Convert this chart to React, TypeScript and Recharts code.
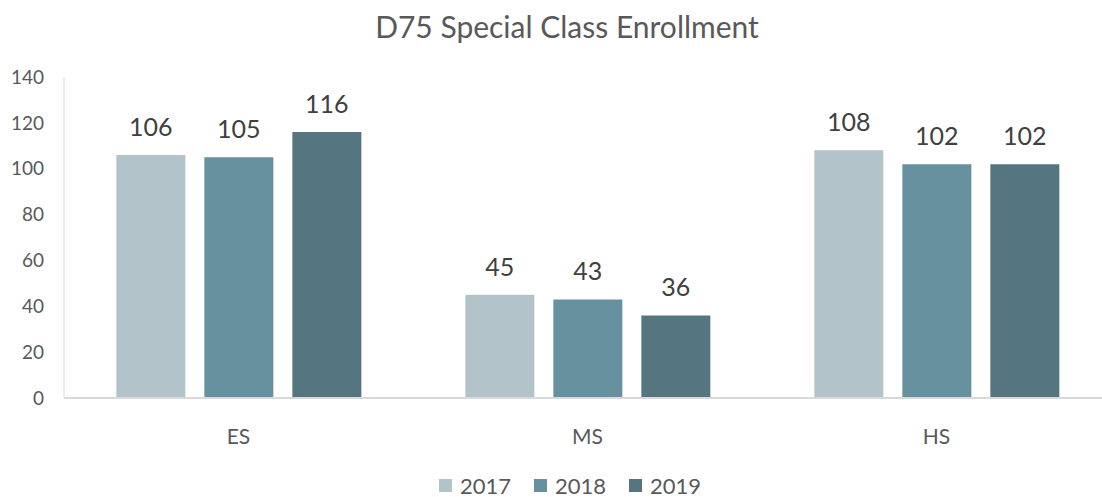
import React from "react";
import { BarChart, Bar, XAxis, YAxis, Legend, LabelList } from "recharts";

const categories = ["ES", "MS", "HS"];
const years = ["2017", "2018", "2019"];
const values2017 = [106, 45, 108];
const values2018 = [105, 43, 102];
const values2019 = [116, 36, 102];
const yTicks = [0, 20, 40, 60, 80, 100, 120, 140];
const colors = ["#b2c3ca", "#6891a0", "#557680"];

const data = categories.map((name, i) => ({
  name,
  "2017": values2017[i],
  "2018": values2018[i],
  "2019": values2019[i],
}));

const FONT = "Lato, 'Open Sans', sans-serif";

function ChartLegend() {
  return (
    <div
      style={{
        display: "flex",
        justifyContent: "center",
        alignItems: "center",
        height: 30,
        fontFamily: FONT,
        fontSize: 22,
        color: "#595959",
      }}
    >
      {years.map((y, i) => (
        <div key={y} style={{ display: "flex", alignItems: "center", marginRight: i < 2 ? 23 : 0 }}>
          <span style={{ width: 13, height: 13, background: colors[i], marginRight: 8, display: "inline-block" }} />
          <span>{y}</span>
        </div>
      ))}
    </div>
  );
}

export default function App() {
  return (
    <div style={{ position: "fixed", left: 0, top: 0, width: 1102, height: 497, overflow: "hidden", background: "#fff" }}>
      <div style={{ position: "relative", width: 1134, height: 497 }}>
        <div
          style={{
            position: "absolute",
            top: 8,
            left: 0,
            width: 1134,
            textAlign: "center",
            fontFamily: FONT,
            fontSize: 30,
            color: "#595959",
          }}
        >
          D75 Special Class Enrollment
        </div>
        <BarChart
          width={1134}
          height={497}
          data={data}
          margin={{ top: 77, right: 23, left: 0, bottom: 39 }}
          barCategoryGap="15%"
          barGap={19}
        >
          <XAxis
            dataKey="name"
            axisLine={{ stroke: "#d9d9d9", strokeWidth: 2 }}
            tickLine={false}
            tickMargin={25}
            tick={{ fill: "#595959", fontSize: 21, fontFamily: FONT }}
          />
          <YAxis
            width={64}
            domain={[0, 140]}
            ticks={yTicks}
            axisLine={{ stroke: "#d9d9d9", strokeWidth: 1 }}
            tickLine={false}
            tickMargin={14}
            tick={{ fill: "#595959", fontSize: 19, fontFamily: FONT }}
          />
          <Legend
            verticalAlign="bottom"
            wrapperStyle={{ bottom: -3, left: 0, width: 1140 }}
            content={() => <ChartLegend />}
          />
          {years.map((y, i) => (
            <Bar key={y} dataKey={y} fill={colors[i]} isAnimationActive={false}>
              <LabelList
                dataKey={y}
                position="top"
                offset={19}
                style={{ fill: "#404040", fontSize: 25, fontFamily: FONT }}
              />
            </Bar>
          ))}
        </BarChart>
      </div>
    </div>
  );
}
